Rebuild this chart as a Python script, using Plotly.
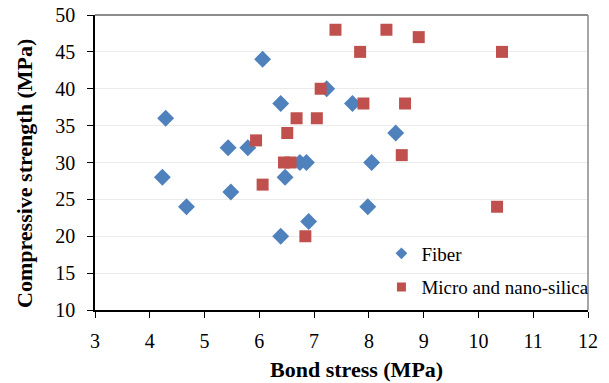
import plotly.graph_objects as go

fiber_x = [4.29, 4.23, 4.67, 5.43, 5.48, 5.79, 6.06, 6.39, 6.39, 6.47, 6.74, 6.86, 6.90, 7.23, 7.70, 8.49, 8.05, 7.98]
fiber_y = [36, 28, 24, 32, 26, 32, 44, 38, 20, 28, 30, 30, 22, 40, 38, 34, 30, 24]

silica_x = [7.39, 7.12, 6.68, 7.05, 6.51, 5.94, 6.45, 6.57, 6.06, 6.84, 8.32, 8.91, 7.84, 10.43, 7.90, 8.66, 8.60, 10.34]
silica_y = [48, 40, 36, 36, 34, 33, 30, 30, 27, 20, 48, 47, 45, 45, 38, 38, 31, 24]

x_ticks = [3, 4, 5, 6, 7, 8, 9, 10, 11, 12]
y_ticks = [10, 15, 20, 25, 30, 35, 40, 45, 50]

x_title = "Bond stress (MPa)"
y_title = "Compressive strength (MPa)"

FONT = "Liberation Serif"
BLUE = "#4F81BD"
RED = "#C0504D"

fig = go.Figure()
fig.add_trace(go.Scatter(x=fiber_x, y=fiber_y, mode="markers", name="Fiber",
                         showlegend=False,
                         marker=dict(symbol="diamond", size=13, color=BLUE, line=dict(width=0))))
fig.add_trace(go.Scatter(x=silica_x, y=silica_y, mode="markers", name="Micro and nano-silica",
                         showlegend=False,
                         marker=dict(symbol="square", size=12, color=RED, line=dict(width=0))))
# legend entries (smaller legend symbols, as in the reference)
fig.add_trace(go.Scatter(x=[None], y=[None], mode="markers", name="Fiber", legendgroup="a",
                         marker=dict(symbol="diamond", size=9, color=BLUE, line=dict(width=0))))
fig.add_trace(go.Scatter(x=[None], y=[None], mode="markers", name="Micro and nano-silica",
                         legendgroup="b",
                         marker=dict(symbol="square", size=9, color=RED, line=dict(width=0))))

tickfont = dict(family=FONT, size=20, color="black")
titlefont = dict(family=FONT, size=22, color="black")

fig.update_layout(
    template="none",
    width=609, height=383,
    margin=dict(l=95, r=21, t=15, b=73, autoexpand=False),
    paper_bgcolor="white", plot_bgcolor="white",
    font=dict(family=FONT, size=20, color="black"),
    showlegend=True,
    legend=dict(x=0.581, y=0.134, xanchor="left", yanchor="middle",
                bgcolor="rgba(0,0,0,0)", font=dict(size=19, family=FONT, color="black"),
                traceorder="grouped", tracegroupgap=6, itemwidth=30),
    xaxis=dict(range=[3, 12], tickvals=x_ticks, showgrid=False, zeroline=False,
               showline=True, linecolor="black", linewidth=1.5,
               ticks="outside", ticklen=6, tickcolor="black", ticklabelstandoff=6,
               tickfont=tickfont),
    yaxis=dict(range=[10, 50], tickvals=y_ticks, showgrid=True, gridcolor="#EBEBEB",
               zeroline=False, showline=True, linecolor="black", linewidth=1.5,
               ticks="outside", ticklen=6, tickcolor="black", ticklabelstandoff=8,
               tickfont=tickfont),
    annotations=[
        dict(text="<b>%s</b>" % x_title, xref="paper", yref="paper",
             x=(356 - 95) / 493, y=(310 - 370) / 295, xanchor="center", yanchor="middle",
             showarrow=False, font=titlefont),
        dict(text="<b>%s</b>" % y_title, xref="paper", yref="paper",
             x=(25 - 95) / 493, y=(310 - 174) / 295, xanchor="center", yanchor="middle",
             textangle=-90, showarrow=False, font=titlefont),
    ],
    shapes=[dict(type="line", xref="paper", yref="paper", x0=0, x1=1, y0=1, y1=1,
                 line=dict(color="#666666", width=1.5)),
            dict(type="line", xref="paper", yref="paper", x0=1, x1=1, y0=0, y1=1,
                 line=dict(color="#888888", width=1.5))],
)

fig.write_html("out.html")
